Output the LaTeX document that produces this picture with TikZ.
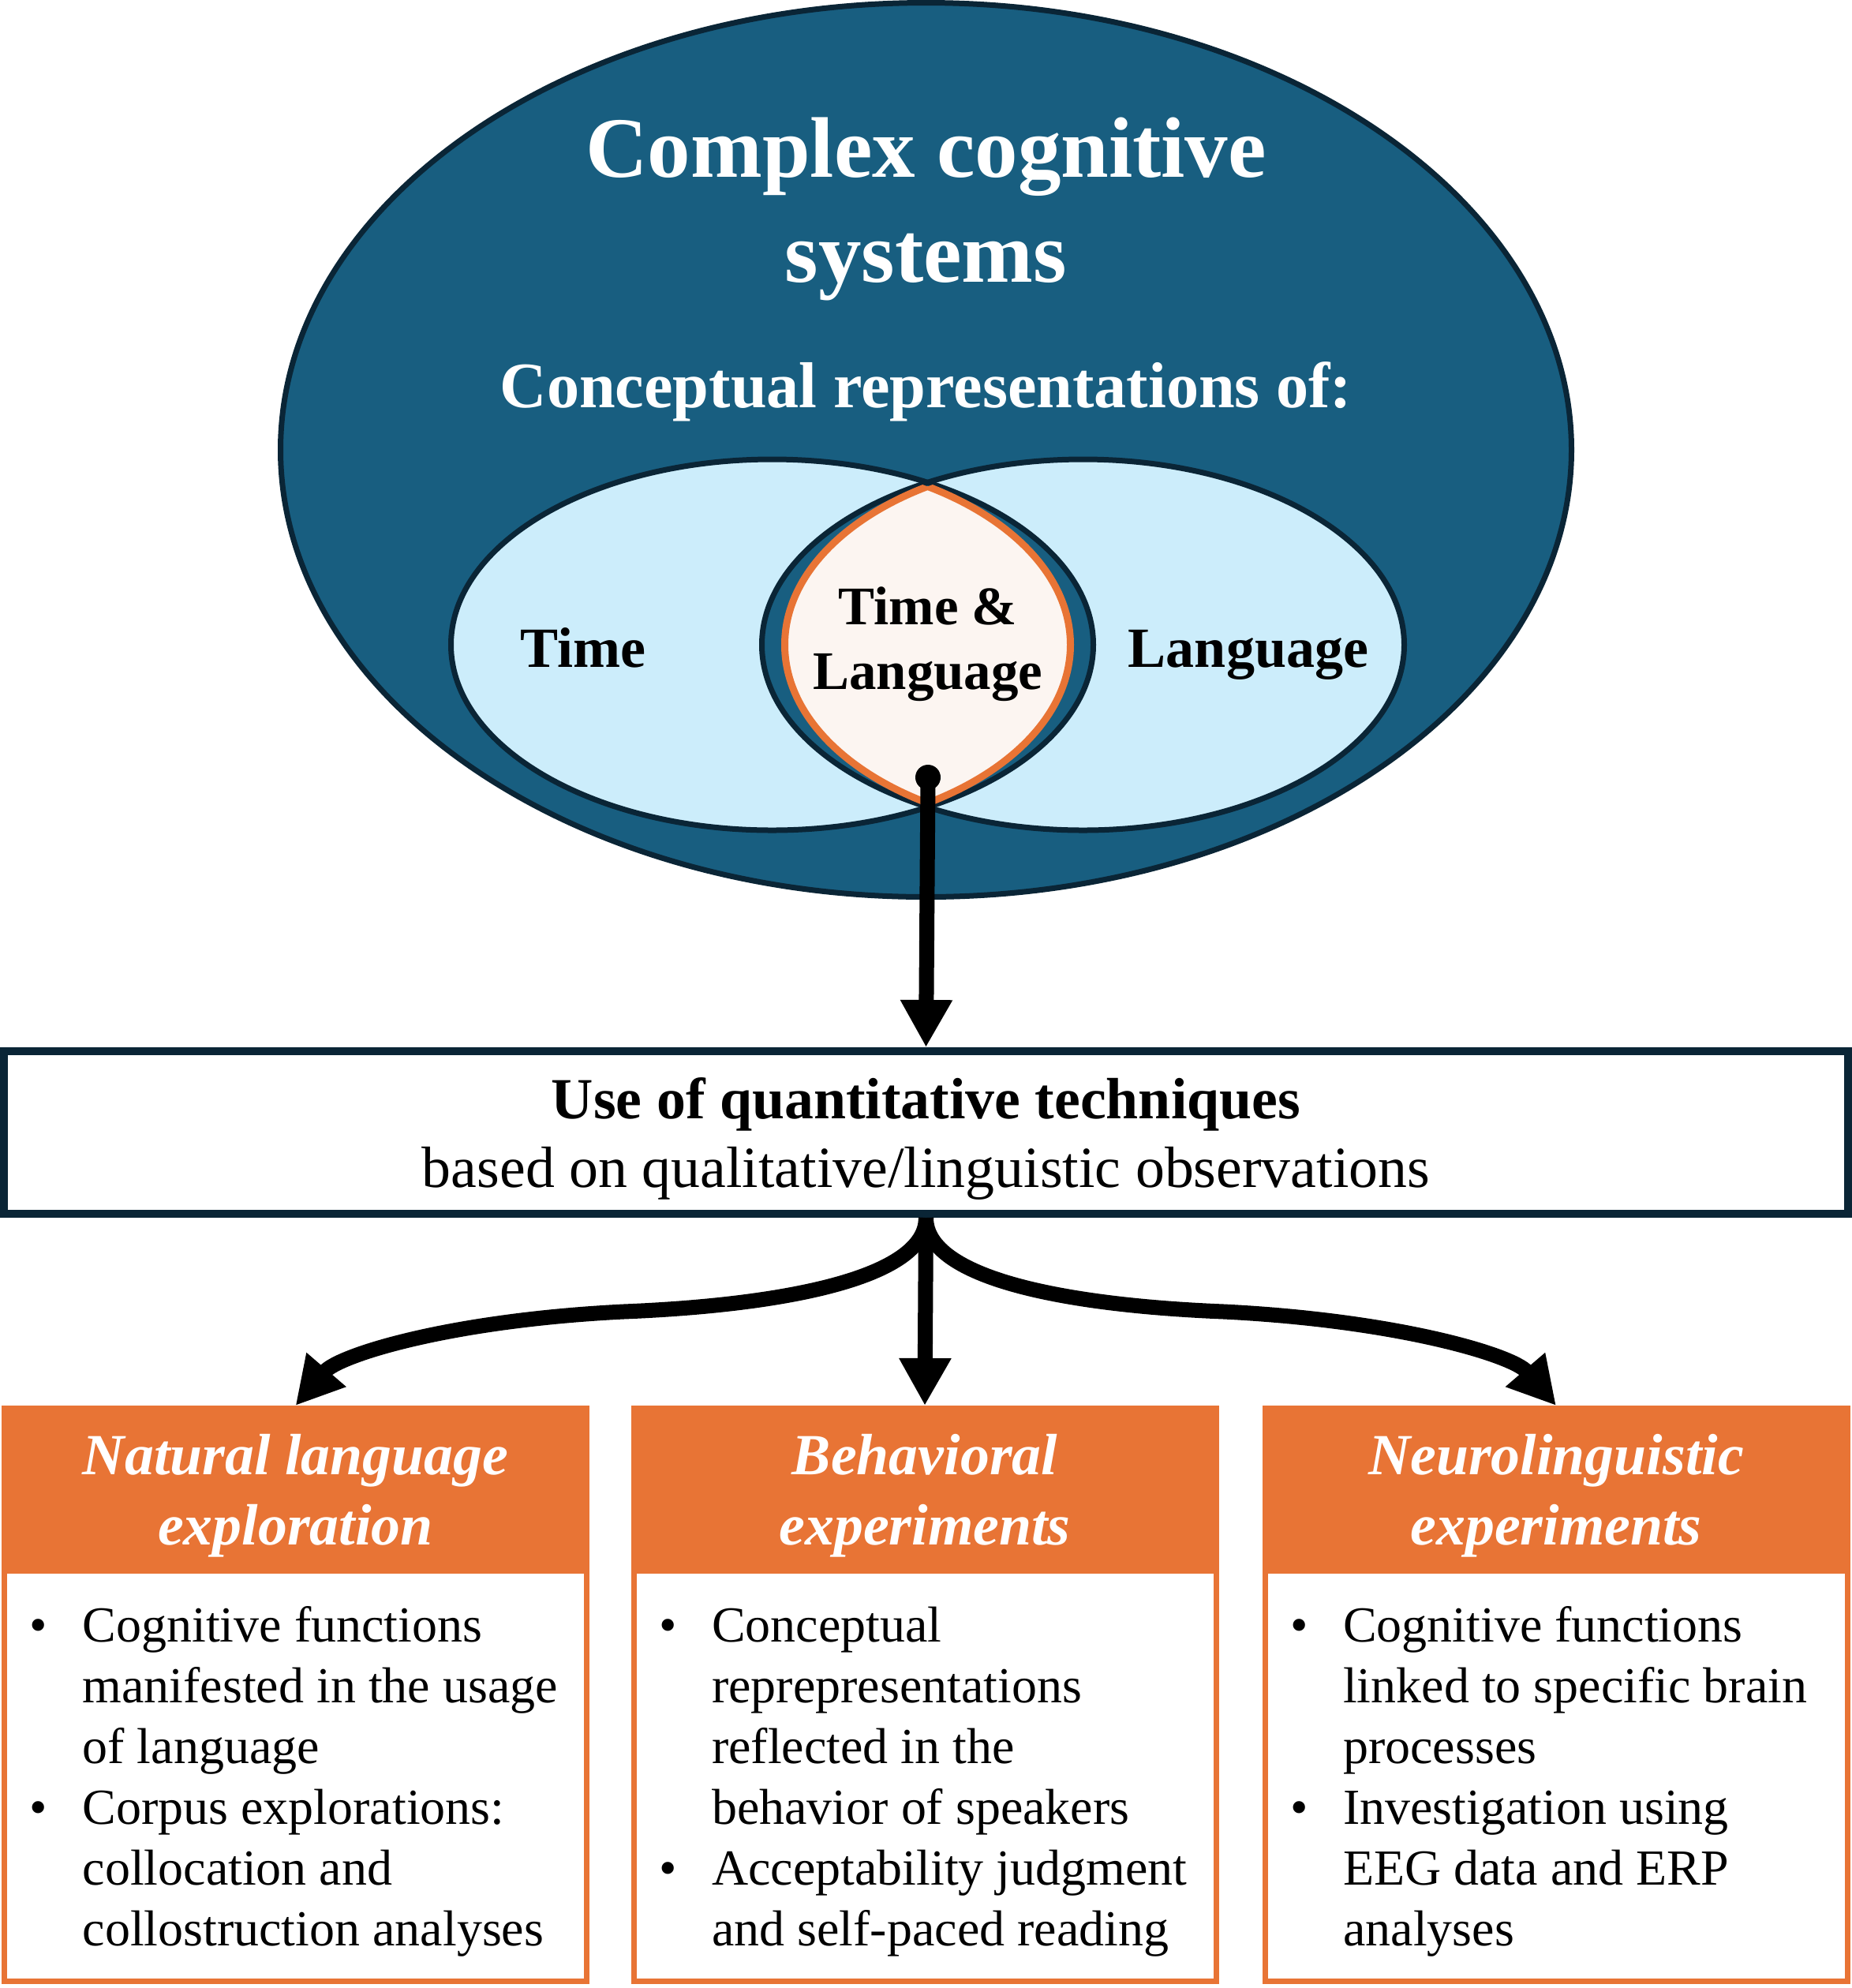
\documentclass[tikz,border=0pt]{standalone}
\usepackage{fontspec}
\setmainfont{Liberation Serif}
\usetikzlibrary{arrows.meta, positioning, calc}
\definecolor{navyfill}{RGB}{24,94,128}
\definecolor{darkline}{RGB}{10,37,54}
\definecolor{paleblue}{RGB}{204,237,251}
\definecolor{creamfill}{RGB}{252,245,241}
\definecolor{techorange}{RGB}{232,116,53}
\tikzstyle{ar} = [-{Triangle[length=6mm, width=6.2mm]}, line width=1.9mm]

\begin{document}
\begin{tikzpicture}[
  title/.style={text=white, font=\fontsize{31}{37.6}\selectfont\bfseries, align=center, inner sep=0pt},
  subtitle/.style={text=white, font=\fontsize{23.4}{27}\selectfont\bfseries, inner sep=0pt},
  setlabel/.style={font=\fontsize{20.5}{23.3}\selectfont\bfseries, align=center, inner sep=0pt},
  lenslabel/.style={font=\fontsize{19.6}{23.3}\selectfont\bfseries, align=center, inner sep=0pt},
  quantbox/.style={rectangle, draw=darkline, line width=1mm, fill=white, minimum width=23.37cm, minimum height=2.06cm, align=center, text depth=-1pt, font=\fontsize{21}{24.8}\selectfont},
  methbox/.style={rectangle, draw=techorange, line width=0.7mm, fill=white, minimum width=7.38cm, minimum height=7.26cm},
  methhead/.style={rectangle, fill=techorange, text=white, minimum width=7.45cm, minimum height=2.13cm, inner sep=0pt, outer sep=0pt, align=center, text depth=-1pt, font=\fontsize{21}{25.3}\selectfont\bfseries\itshape},
  methbody/.style={anchor=north west, inner sep=0pt, font=\fontsize{18.2}{21.9}\selectfont}]

  \useasboundingbox (0,0) rectangle (23.47,-25.19);

  % sets
  \filldraw[fill=navyfill, draw=darkline, line width=0.7mm] (11.735,-5.70) ellipse [x radius=8.18, y radius=5.665];
  \fill[paleblue] (9.785,-8.17) ellipse [x radius=4.07, y radius=2.35];
  \fill[paleblue] (13.725,-8.17) ellipse [x radius=4.07, y radius=2.35];
  \begin{scope}
    \clip (9.785,-8.17) ellipse [x radius=4.07, y radius=2.35];
    \fill[navyfill] (13.725,-8.17) ellipse [x radius=4.07, y radius=2.35];
  \end{scope}
  \draw[darkline, line width=0.7mm] (9.785,-8.17) ellipse [x radius=4.07, y radius=2.35];
  \draw[darkline, line width=0.7mm] (13.725,-8.17) ellipse [x radius=4.07, y radius=2.35];
  \begin{scope}
    \clip (9.785,-8.17) ellipse [x radius=3.78, y radius=2.35];
    \filldraw[fill=creamfill, draw=techorange, line width=0.9mm] (13.725,-8.17) ellipse [x radius=3.78, y radius=2.35];
  \end{scope}
  \begin{scope}
    \clip (13.725,-8.17) ellipse [x radius=3.78, y radius=2.35];
    \draw[techorange, line width=0.9mm] (9.785,-8.17) ellipse [x radius=3.78, y radius=2.35];
  \end{scope}

  \node[title, anchor=base] (complex) at (11.735,-3.57) {Complex cognitive\\systems};
  \node[subtitle, anchor=base] (concept) at (11.735,-5.16) {Conceptual representations of:};
  \node[setlabel, anchor=base] (time) at (7.39,-8.45) {Time};
  \node[setlabel, anchor=base] (lang) at (15.82,-8.45) {Language};
  \node[lenslabel, anchor=base] (both) at (11.76,-8.73) {Time \&\\Language};

  \coordinate (lensdot) at (11.76,-9.85);
  \fill (lensdot) circle (0.16);

  \node[quantbox] (quant) at (11.735,-14.35) {\textbf{Use of quantitative techniques}\\based on qualitative/linguistic observations};

  % methods
  \node[methbox] (nlbox) at (3.745,-21.475) {};
  \node[methbox] (behbox) at (11.72,-21.475) {};
  \node[methbox] (neubox) at (19.72,-21.475) {};

  \node[methhead, anchor=north] (nlhead) at (nlbox.north) {Natural language\\exploration};
  \node[methhead, anchor=north] (behhead) at (behbox.north) {Behavioral\\experiments};
  \node[methhead, anchor=north] (neuhead) at (neubox.north) {Neurolinguistic\\experiments};

  \node[methbody] (nltext) at ([xshift=3.5mm, yshift=-3.2mm]nlhead.south west) {%
    \begin{tabular}{@{}p{0.67cm}@{}l@{}}
      \textbullet & Cognitive functions\\
                  & manifested in the usage\\
                  & of language\\
      \textbullet & Corpus explorations:\\
                  & collocation and\\
                  & collostruction analyses
    \end{tabular}};
  \node[methbody] (behtext) at ([xshift=3.5mm, yshift=-3.2mm]behhead.south west) {%
    \begin{tabular}{@{}p{0.67cm}@{}l@{}}
      \textbullet & Conceptual\\
                  & reprepresentations\\
                  & reflected in the\\
                  & behavior of speakers\\
      \textbullet & Acceptability judgment\\
                  & and self-paced reading
    \end{tabular}};
  \node[methbody] (neutext) at ([xshift=3.5mm, yshift=-3.2mm]neuhead.south west) {%
    \begin{tabular}{@{}p{0.67cm}@{}l@{}}
      \textbullet & Cognitive functions\\
                  & linked to specific brain\\
                  & processes\\
      \textbullet & Investigation using\\
                  & EEG data and ERP\\
                  & analyses
    \end{tabular}};

  \draw[ar] (lensdot) -- (quant.north);
  \draw[ar] (quant.south) .. controls +(0,-0.77) and +(2.0,0.08) .. (7.90,-16.62)
    .. controls +(-2.2,-0.11) and +(0.55,0.64) .. (nlbox.north);
  \draw[ar] (quant.south) -- (behbox.north);
  \draw[ar] (quant.south) .. controls +(0,-0.77) and +(-2.0,0.08) .. (15.51,-16.62)
    .. controls +(2.2,-0.11) and +(-0.55,0.64) .. (neubox.north);
\end{tikzpicture}
\end{document}
